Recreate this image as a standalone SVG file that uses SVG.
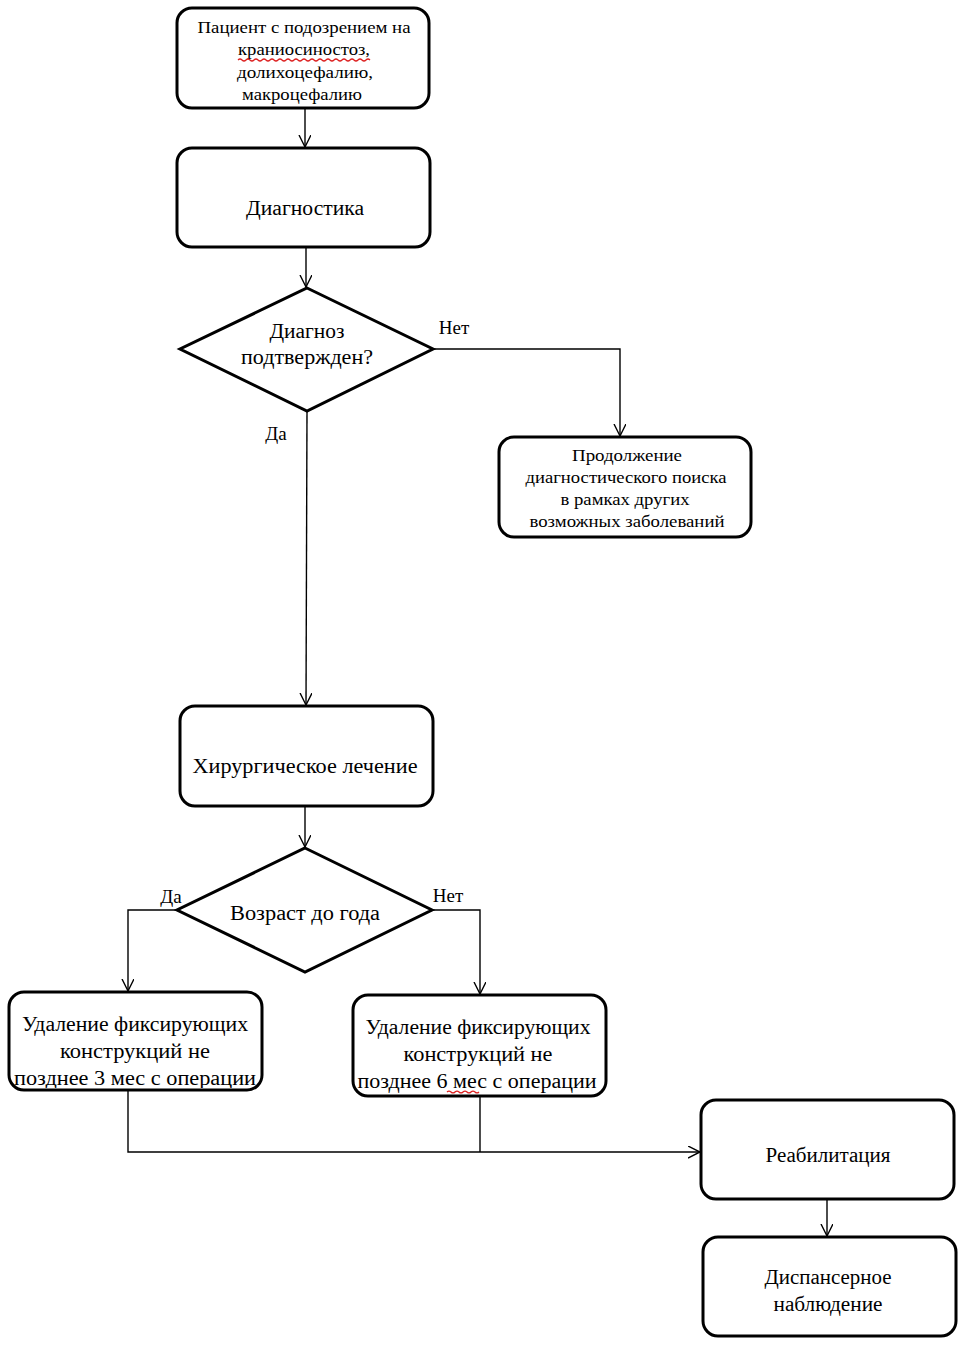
<svg xmlns="http://www.w3.org/2000/svg" width="966" height="1346" viewBox="0 0 966 1346">
<style>
.box{fill:#fff;stroke:#000;stroke-width:3}
.dia{fill:#fff;stroke:#000;stroke-width:3;stroke-linejoin:miter}
.ln{fill:none;stroke:#000;stroke-width:1.4}
text{font-family:"Liberation Serif","Times New Roman",serif;fill:#000;text-anchor:middle}
.s{font-size:17px}
.m{font-size:20px}
.sq{fill:none;stroke:#d22;stroke-width:1.2}
</style>
<defs>
<marker id="arr" markerWidth="14" markerHeight="14" refX="12" refY="6" orient="auto" markerUnits="userSpaceOnUse">
<path d="M0,0 L12,6 L0,12" fill="none" stroke="#000" stroke-width="1.4"/>
</marker>
<clipPath id="c5"><rect x="10" y="993" width="251" height="95" rx="13"/></clipPath>
<clipPath id="c6"><rect x="354" y="996" width="251" height="98" rx="13"/></clipPath>
</defs>
<g id="connectors">
<path class="ln" d="M305,108 V147" marker-end="url(#arr)"/>
<path class="ln" d="M306,247 V287" marker-end="url(#arr)"/>
<path class="ln" d="M433,349 H620 V436" marker-end="url(#arr)"/>
<path class="ln" d="M307,411 L306,705" marker-end="url(#arr)"/>
<path class="ln" d="M305,806 V847" marker-end="url(#arr)"/>
<path class="ln" d="M177,910 H128 V991" marker-end="url(#arr)"/>
<path class="ln" d="M432,910 H480 V994" marker-end="url(#arr)"/>
<path class="ln" d="M128,1090 V1152 H700" marker-end="url(#arr)"/>
<path class="ln" d="M480,1096 V1152"/>
<path class="ln" d="M827,1199 V1236" marker-end="url(#arr)"/>
<text class="s" x="454" y="334" style="font-size:19px">Нет</text>
<text class="s" x="276" y="440" style="font-size:19px">Да</text>
<text class="s" x="171" y="903" style="font-size:19px">Да</text>
<text class="s" x="448" y="902" style="font-size:19px">Нет</text>
</g>
<g id="n1">
<rect class="box" x="177" y="8" width="252" height="100" rx="15"/>
<text class="s" x="304" y="33" textLength="213" lengthAdjust="spacingAndGlyphs">Пациент  с подозрением  на</text>
<text class="s" x="304" y="55" textLength="132" lengthAdjust="spacingAndGlyphs">краниосиностоз,</text>
<path class="sq" d="M238,60 q2,-2 4,0 t4,0 t4,0 t4,0 t4,0 t4,0 t4,0 t4,0 t4,0 t4,0 t4,0 t4,0 t4,0 t4,0 t4,0 t4,0 t4,0 t4,0 t4,0 t4,0 t4,0 t4,0 t4,0 t4,0 t4,0 t4,0 t4,0 t4,0 t4,0 t4,0 t4,0 t4,0 t4,0"/>
<text class="s" x="305" y="78" textLength="136" lengthAdjust="spacingAndGlyphs">долихоцефалию,</text>
<text class="s" x="302" y="100" textLength="120" lengthAdjust="spacingAndGlyphs">макроцефалию</text>
</g>
<g id="n2">
<rect class="box" x="177" y="148" width="253" height="99" rx="15"/>
<text class="m" x="305" y="215" textLength="118" lengthAdjust="spacingAndGlyphs">Диагностика</text>
</g>
<g id="n3">
<polygon class="dia" points="307,288 433,349 307,411 180,349"/>
<text class="m" x="307" y="338" textLength="75" lengthAdjust="spacingAndGlyphs">Диагноз</text>
<text class="m" x="307" y="364" textLength="132" lengthAdjust="spacingAndGlyphs">подтвержден?</text>
</g>
<g id="n4">
<rect class="box" x="499" y="437" width="252" height="100" rx="15"/>
<text class="s" x="627" y="461" textLength="110" lengthAdjust="spacingAndGlyphs">Продолжение</text>
<text class="s" x="626" y="483" textLength="201" lengthAdjust="spacingAndGlyphs">диагностического  поиска</text>
<text class="s" x="625" y="505" textLength="129" lengthAdjust="spacingAndGlyphs">в рамках других</text>
<text class="s" x="627" y="527" textLength="195" lengthAdjust="spacingAndGlyphs">возможных заболеваний</text>
</g>
<g id="n5">
<rect class="box" x="180" y="706" width="253" height="100" rx="15"/>
<text class="m" x="305" y="773" textLength="225" lengthAdjust="spacingAndGlyphs">Хирургическое  лечение</text>
</g>
<g id="n6">
<polygon class="dia" points="305,848 432,910 305,972 177,910"/>
<text class="m" x="305" y="920" textLength="150" lengthAdjust="spacingAndGlyphs">Возраст до года</text>
</g>
<g id="n7">
<rect class="box" x="9" y="992" width="253" height="98" rx="15"/>
<g clip-path="url(#c5)">
<text class="m" x="135" y="1031" textLength="226" lengthAdjust="spacingAndGlyphs">Удаление  фиксирующих</text>
<text class="m" x="135" y="1058" textLength="150" lengthAdjust="spacingAndGlyphs">конструкций  не</text>
<text class="m" x="135" y="1085" textLength="242" lengthAdjust="spacingAndGlyphs">позднее  3 мес с операции</text>
</g>
</g>
<g id="n8">
<rect class="box" x="353" y="995" width="253" height="101" rx="15"/>
<g clip-path="url(#c6)">
<text class="m" x="478" y="1034" textLength="225" lengthAdjust="spacingAndGlyphs">Удаление  фиксирующих</text>
<text class="m" x="478" y="1061" textLength="149" lengthAdjust="spacingAndGlyphs">конструкций  не</text>
<text class="m" x="477" y="1088" textLength="239" lengthAdjust="spacingAndGlyphs">позднее  6 мес с операции</text>
</g>
<path class="sq" d="M447,1092 q2,-2 4,0 t4,0 t4,0 t4,0 t4,0 t4,0 t4,0 t4,0"/>
</g>
<g id="n9">
<rect class="box" x="701" y="1100" width="253" height="99" rx="15"/>
<text class="m" x="828" y="1162" textLength="125" lengthAdjust="spacingAndGlyphs">Реабилитация</text>
</g>
<g id="n10">
<rect class="box" x="703" y="1237" width="253" height="99" rx="15"/>
<text class="m" x="828" y="1284" textLength="127" lengthAdjust="spacingAndGlyphs">Диспансерное</text>
<text class="m" x="828" y="1311" textLength="109" lengthAdjust="spacingAndGlyphs">наблюдение</text>
</g>
</svg>
